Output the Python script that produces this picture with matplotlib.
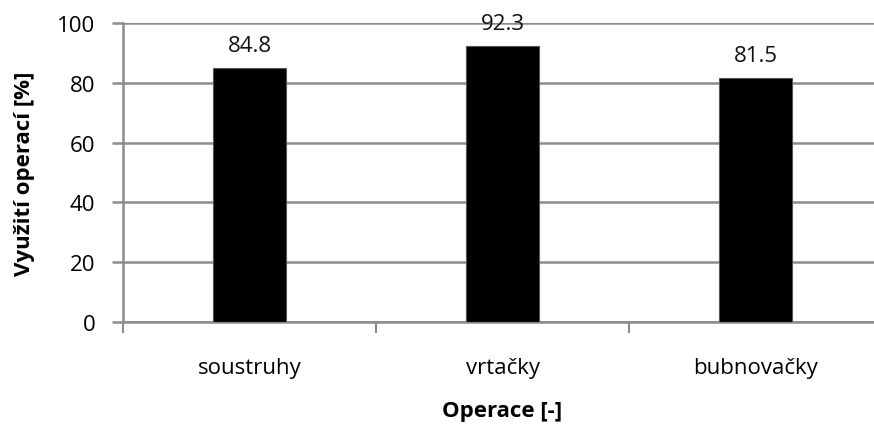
import matplotlib
matplotlib.use("Agg")
import matplotlib.pyplot as plt
from matplotlib.ticker import FixedLocator

categories = ["soustruhy", "vrtačky", "bubnovačky"]
values = [84.8, 92.3, 81.5]
yticks = [0, 20, 40, 60, 80, 100]

plt.rcParams['font.family'] = ['Open Sans', 'DejaVu Sans']

fig = plt.figure(figsize=(8.74, 4.31), dpi=100)
ax = fig.add_axes([123/874, 108/431, 759/874, 299/431])

grid_c = '#8c8c8c'
fs = 16
x = list(range(len(categories)))
ax.bar(x, values, width=0.29, color='black', edgecolor='#555555', linewidth=0.8, zorder=3)
for xi, v in zip(x, values):
    ax.annotate(f"{v:.1f}", (xi, v), xytext=(0, 9), textcoords='offset points',
                ha='center', va='bottom', fontsize=fs, color='#111111')

ax.set_xlim(-0.5, 2.5)
ax.set_ylim(0, 100)
ax.set_yticks(yticks)
ax.yaxis.grid(True, color=grid_c, linewidth=1.8, zorder=0)
ax.set_axisbelow(True)

ax.set_xticks(x)
ax.set_xticklabels(categories, fontsize=fs)
ax.tick_params(axis='x', which='major', length=0, pad=25)
ax.xaxis.set_minor_locator(FixedLocator([-0.5, 0.5, 1.5, 2.5]))
ax.tick_params(axis='x', which='minor', length=8, width=1.5, color=grid_c, direction='out')
ax.tick_params(axis='y', length=8, width=1.8, color=grid_c, labelsize=fs, pad=12)

for s in ['top', 'right']:
    ax.spines[s].set_visible(False)
for s in ['left', 'bottom']:
    ax.spines[s].set_color(grid_c)
    ax.spines[s].set_linewidth(1.8)

ax.set_ylabel("Využití operací [%]", fontsize=fs, fontweight='bold', labelpad=16)
ax.set_xlabel("Operace [-]", fontsize=fs, fontweight='bold', labelpad=16)

fig.savefig("out.png", dpi=100)
